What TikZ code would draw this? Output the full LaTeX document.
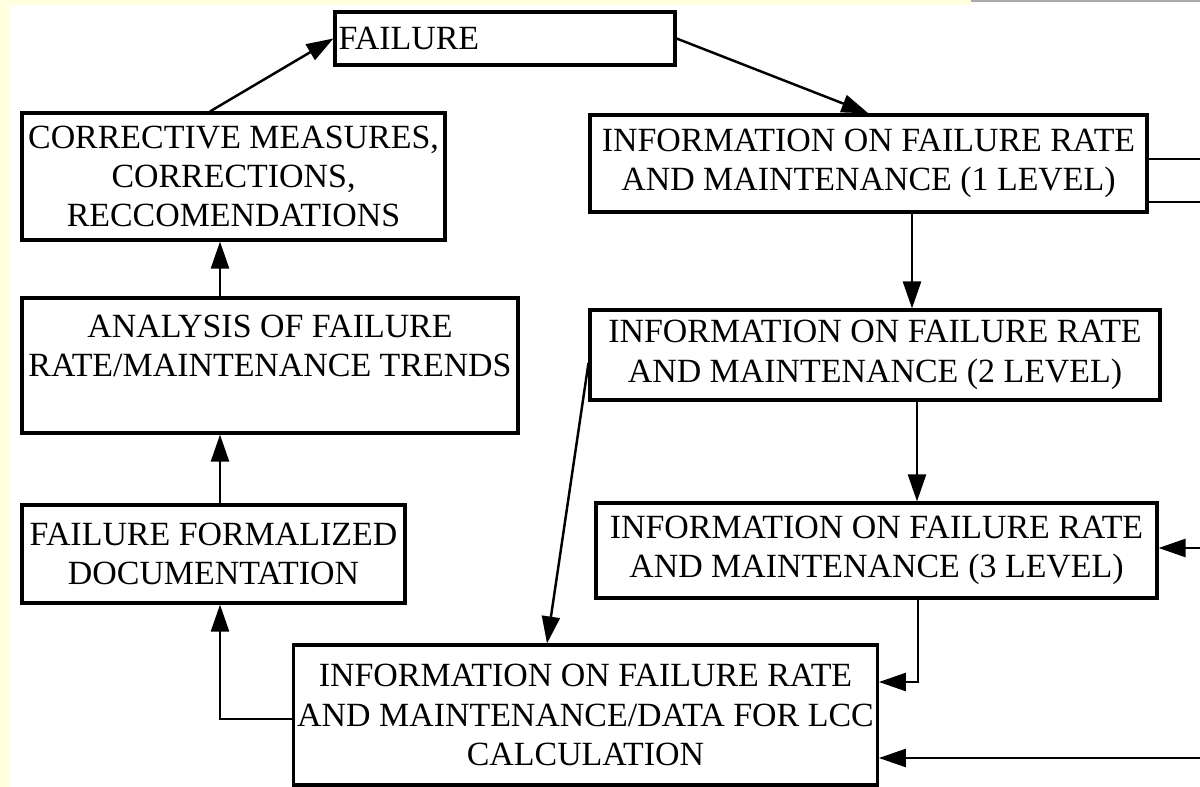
\documentclass[tikz,border=0pt]{standalone}
\usepackage{fontspec}
\setmainfont{Liberation Serif}
\usepackage{tikz}
\usetikzlibrary{positioning}
\usetikzlibrary{calc}
\usetikzlibrary{arrows.meta}
\definecolor{cream}{RGB}{255,255,222}
\definecolor{edgegray}{RGB}{170,170,170}

\begin{document}
\begin{tikzpicture}[x=0.02cm,y=-0.02cm,
    box/.style={draw,line width=1.8pt,rectangle,align=center,inner sep=2pt,
        font=\fontsize{19.3}{22.4}\selectfont},
    link/.style={line width=1.4pt,-{Triangle[length=5.4mm,width=3.6mm]}},
    wire/.style={line width=1.4pt}]

    \useasboundingbox (0,0) rectangle (1200,787);
    \fill[white] (0,0) rectangle (1200,787);
    \fill[cream] (0,0) rectangle (10,787);
    \fill[cream] (0,0) rectangle (971,5);
    \fill[edgegray] (971,0) rectangle (1200,2);

    \node[box,text width=6.66cm,align=left,minimum height=1.06cm] (fail) at (505,38.5) {FAILURE};
    \node[box,minimum width=8.46cm,minimum height=2.54cm] (corr) at (233.5,176.5) {CORRECTIVE MEASURES,\\CORRECTIONS,\\RECCOMENDATIONS};
    \node[box,minimum width=9.92cm,minimum height=2.7cm] (anal) at (270,365.5) {ANALYSIS OF FAILURE\\RATE/MAINTENANCE TRENDS\\~};
    \node[box,minimum width=7.66cm,minimum height=1.96cm] (form) at (213.5,554) {FAILURE FORMALIZED\\DOCUMENTATION};
    \node[box,minimum width=11.14cm,minimum height=1.94cm] (info1) at (868.5,163.5) {INFORMATION ON FAILURE RATE\\AND MAINTENANCE (1 LEVEL)};
    \node[box,minimum width=11.4cm,minimum height=1.8cm] (info2) at (875,355) {INFORMATION ON FAILURE RATE\\AND MAINTENANCE (2 LEVEL)};
    \node[box,minimum width=11.22cm,minimum height=1.9cm] (info3) at (876.5,550.5) {INFORMATION ON FAILURE RATE\\AND MAINTENANCE (3 LEVEL)};
    \node[box,minimum width=11.62cm,minimum height=2.8cm] (lcc) at (585.5,715) {INFORMATION ON FAILURE RATE\\AND MAINTENANCE/DATA FOR LCC\\CALCULATION};

    \coordinate (out1a) at (1200,159);
    \coordinate (out1b) at (1200,202);
    \coordinate (in3) at (1200,548);
    \coordinate (in4) at (1200,758);

    \draw[link] ($(corr.north)+(-23.5,0)$) -- (fail.west);
    \draw[link] (fail.east) -- (info1.north);
    \draw[link] (912,0 |- info1.south) -- (912,0 |- info2.north);
    \draw[link] (917,0 |- info2.south) -- (917,0 |- info3.north);
    \draw[link] (918,0 |- info3.south) |- (lcc.east |- 0,682);
    \draw[link] (in4) -- (lcc.east |- in4);
    \draw[link] (in3) -- (info3.east |- in3);
    \draw[wire] (info1.east |- out1a) -- (out1a);
    \draw[wire] (info1.east |- out1b) -- (out1b);
    \draw[link] ($(info2.west)+(0,8)$) -- (547,0 |- lcc.north);
    \draw[link] (lcc.west |- 0,719) -| (220,0 |- form.south);
    \draw[link] (220,0 |- form.north) -- (220,0 |- anal.south);
    \draw[link] (220,0 |- anal.north) -- (220,0 |- corr.south);
\end{tikzpicture}
\end{document}
